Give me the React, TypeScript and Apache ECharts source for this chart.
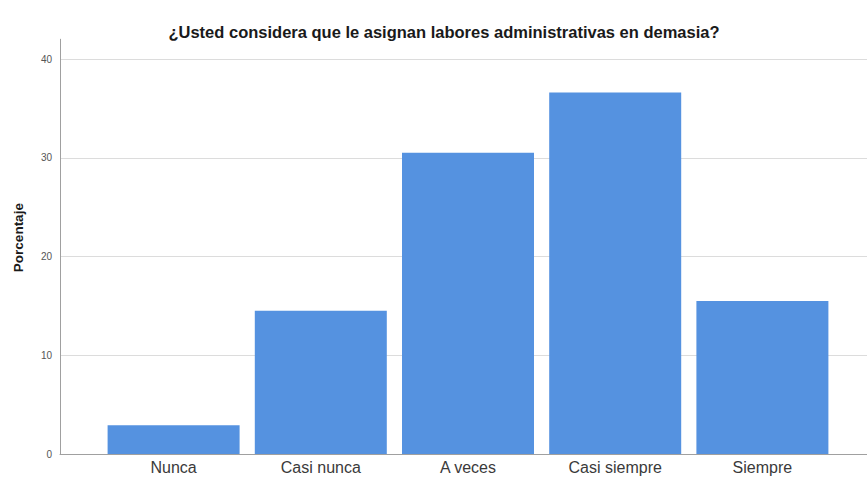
import React, { useEffect, useRef } from "react";
import * as echarts from "echarts";

const categories = ["Nunca", "Casi nunca", "A veces", "Casi siempre", "Siempre"];
const percentages = [2.9, 14.5, 30.5, 36.6, 15.5];
const title = "¿Usted considera que le asignan labores administrativas en demasia?";
const yAxisName = "Porcentaje";

export default function App() {
  const ref = useRef<HTMLDivElement>(null);
  useEffect(() => {
    if (!ref.current) return;
    const chart = echarts.init(ref.current, undefined, { renderer: "svg" });
    const font = "'Liberation Sans', Arial, sans-serif";
    chart.setOption({
      animation: false,
      backgroundColor: "#ffffff",
      title: {
        text: title,
        left: 439,
        textAlign: "center",
        top: 18,
        textStyle: { fontFamily: font, fontSize: 16.5, fontWeight: "bold", color: "#1a1a1a" },
      },
      grid: [
        { left: 100, right: 31, top: 39.25, bottom: 23 },
        { left: 60, right: 0, top: 39.25, bottom: 23 },
      ],
      xAxis: [
        {
          type: "category",
          gridIndex: 0,
          data: categories,
          axisLine: { show: false },
          axisTick: { show: false },
          axisLabel: { fontFamily: font, fontSize: 16, color: "#3a3a3a", margin: 5 },
        },
        {
          type: "value",
          gridIndex: 1,
          min: 0,
          max: 1,
          axisLine: { show: true, lineStyle: { color: "#a0a0a0", width: 1 } },
          axisTick: { show: false },
          axisLabel: { show: false },
          splitLine: { show: false },
        },
      ],
      yAxis: [
        {
          type: "value",
          gridIndex: 0,
          min: 0,
          max: 42,
          show: false,
          splitLine: { show: false },
        },
        {
          type: "value",
          gridIndex: 1,
          min: 0,
          max: 42,
          interval: 10,
          name: yAxisName,
          nameLocation: "middle",
          nameGap: 35,
          nameTextStyle: {
            fontFamily: font,
            fontSize: 13.5,
            fontWeight: "bold",
            color: "#1a1a1a",
            padding: [0, 0, 0, 18],
          },
          axisLine: { show: true, lineStyle: { color: "#a0a0a0", width: 1 } },
          axisTick: { show: false },
          axisLabel: {
            fontFamily: font,
            fontSize: 10,
            color: "#555",
            margin: 8,
            showMaxLabel: false,
          },
          splitLine: { show: true, showMaxLine: false, lineStyle: { color: "#dcdcdc", width: 1 } },
        },
      ],
      series: [
        {
          type: "bar",
          xAxisIndex: 0,
          yAxisIndex: 0,
          data: percentages,
          barWidth: 132,
          itemStyle: { color: "#5592e0" },
        },
      ],
    });
    return () => chart.dispose();
  }, []);
  return <div ref={ref} style={{ width: 867, height: 477, position: "fixed", left: 0, top: 0 }} />;
}
